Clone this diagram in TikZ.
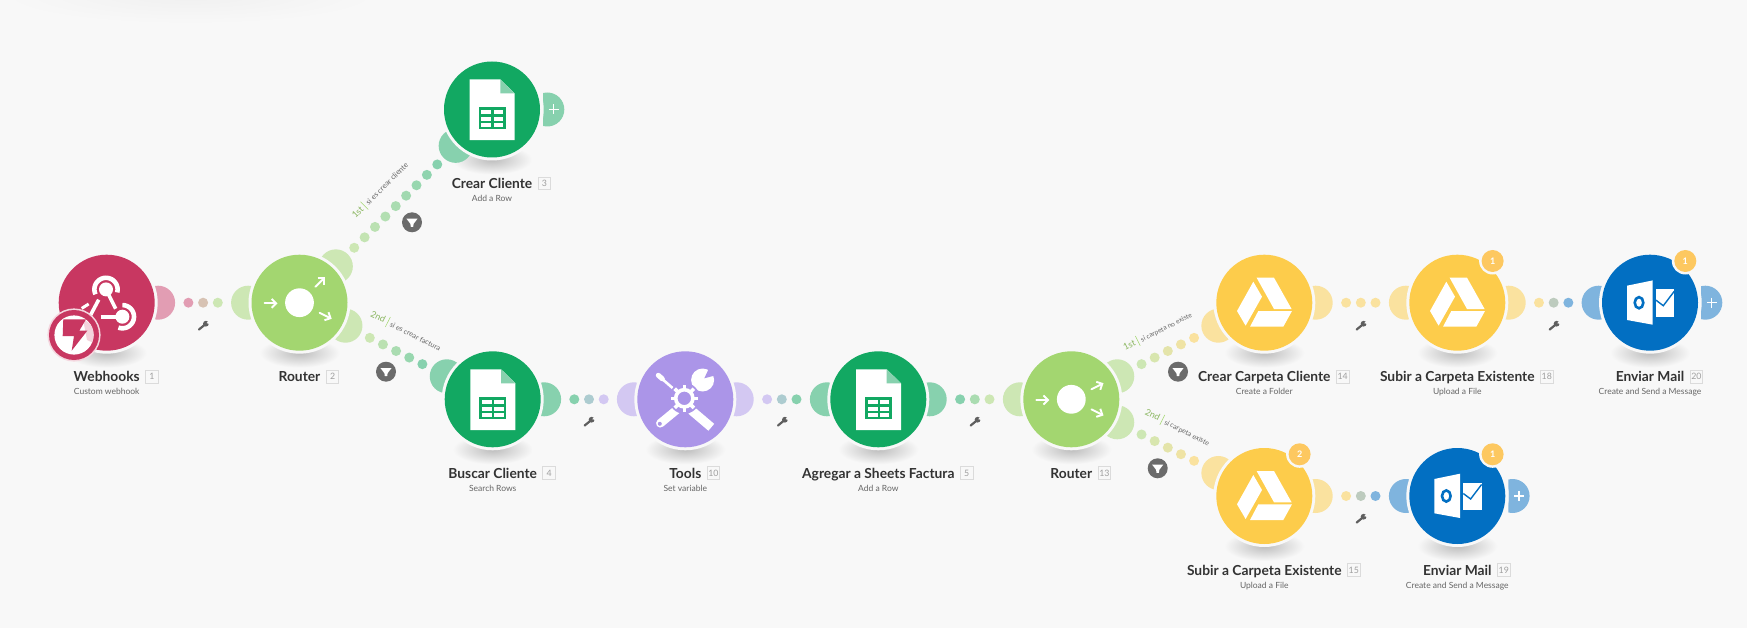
\documentclass[tikz,border=0pt]{standalone}
\usepackage{fontspec}
\setmainfont{Lato}
\usetikzlibrary{calc,arrows.meta}
\definecolor{bgc}{HTML}{F8F8F8}
\definecolor{hook}{HTML}{C83761}
\definecolor{hookS}{HTML}{E29DB3}
\definecolor{rout}{HTML}{A3D670}
\definecolor{routS}{HTML}{CDE7B4}
\definecolor{shee}{HTML}{12A862}
\definecolor{sheeS}{HTML}{87D1AE}
\definecolor{tool}{HTML}{AB95E8}
\definecolor{toolS}{HTML}{D3C8F2}
\definecolor{driv}{HTML}{FDCC4B}
\definecolor{drivS}{HTML}{FAE29F}
\definecolor{outl}{HTML}{026FC2}
\definecolor{outlS}{HTML}{7FB4DE}
\definecolor{badg}{HTML}{FDC860}
\definecolor{txtd}{HTML}{333333}
\definecolor{txtm}{HTML}{666666}
\definecolor{filt}{HTML}{6B6B6B}
\definecolor{wren}{HTML}{5F5F5F}
\tikzset{
 modcirc/.style={circle,inner sep=0pt,minimum size=96pt,fill=#1},
 modname/.style={inner sep=0pt,anchor=base,text=txtd,font=\fontsize{13.8}{16}\selectfont\bfseries},
 modsub/.style={inner sep=0pt,anchor=base,text=txtm,font=\fontsize{8.5}{10}\selectfont},
 numbox/.style={draw=black!14,line width=1pt,fill=bgc,minimum size=12.7pt,inner sep=0pt,text=black!38,font=\fontsize{8.8}{10}\selectfont},
 dotmark/.style={circle,inner sep=0pt,minimum size=10pt},
 filtnode/.style={circle,inner sep=0pt,minimum size=20pt,fill=filt},
 badgenode/.style={circle,inner sep=0pt,minimum size=22pt,fill=badg,text=white,font=\fontsize{9}{10}\selectfont\bfseries},
 routlabel/.style={inner sep=0pt,text=txtm},
 sheet/.pic={
  \fill[white] (-22.3,-30) -- (8.3,-30) -- (22.7,-16) -- (22.7,30.7) -- (-22.3,30.7) -- cycle;
  \fill[sheeS] (8.3,-30) -- (22.7,-16) -- (8.3,-16) -- cycle;
  \fill[shee] (-13.3,-2) rectangle (13.7,20);
  \foreach \yy in {0.7,7.3,14}{
   \fill[white] (-10.7,\yy) rectangle (-0.7,\yy+4);
   \fill[white] (1.7,\yy) rectangle (11,\yy+4);}
 },
 drive/.pic={
  \fill[white] (-7.7,-25) -- (9.7,-25) -- (27.3,6.3) -- (9.7,6.3) -- cycle;
  \fill[white] (-11,-21) -- (-2.3,-6) -- (-18.7,23) -- (-27.3,8.3) -- cycle;
  \fill[white] (-6,8.3) -- (27.7,8.3) -- (19,24) -- (-14.3,24) -- cycle;
 },
 outlook/.pic={
  \fill[white] (-23,-17) -- (2.7,-22.3) -- (2.7,22) -- (-23,17.3) -- cycle;
  \draw[outl,line width=2.6pt] (-11,0) ellipse[x radius=4.3,y radius=5.6];
  \fill[white] (6,-13.3) rectangle (24.3,14);
  \draw[outl,line width=1.4pt] (6,-2.5) -- (13.3,3) -- (24.3,-11.5);
 },
 tools/.pic={
  \draw[white,line width=2.6pt] (-25,-22) -- (-9,-8);
  \draw[white,line width=5pt,line cap=round] (-27,-24) -- (-23,-20.5);
  \draw[white,line width=9pt] (6,11) -- (26,28);
  \draw[white,line width=8.5pt,line cap=round] (-8,10) -- (-25,24);
  \fill[tool] (-25.5,24.5) circle[radius=2];
  \draw[white,line width=4.5pt] (8,-9) -- (14,-15);
  \fill[white] (17.3,-19.3) circle[radius=11.5];
  \fill[tool] (19,-21) -- (26,-36) -- (38,-26) -- cycle;
  \fill[tool] (-1,-1) circle[radius=15.5];
  \draw[white,line width=3.6pt] (-1,-1) circle[radius=8.6];
  \foreach \aa in {0,45,...,315}{\draw[white,line width=3.6pt] ($(-1,-1)+(\aa:9)$) -- ($(-1,-1)+(\aa:13.6)$);}
 },
 hookicon/.pic={
  \draw[white,line width=4.6pt] plot[domain=155:375,samples=30] ({-0.7+11.6*cos(\x)},{-13.3+11.6*sin(\x)});
  \draw[white,line width=4.6pt] plot[domain=-90:110,samples=30] ({15.7+11.6*cos(\x)},{14+11.6*sin(\x)});
  \fill[white] (-0.7,-13.3) circle[radius=7];
  \fill[white] (15.7,14) circle[radius=7];
  \draw[white,line width=3.6pt] (-0.7,-13.3) -- (9,6);
  \draw[white,line width=3.6pt] (-8,-3) -- (-17,14);
  \draw[white,line width=3.6pt] (-6,14) -- (15.7,14);
  \draw[white,line width=3pt] (-25,5.7) -- (-18,1.3);
 },
 wrenchmark/.pic={
  \draw[wren,line width=2.2pt,line cap=round] (-4.3,3.8) -- (1.5,-1);
  \fill[wren] (2.6,-2) circle[radius=2.9];
  \fill[bgc] (3.2,-2.6) -- (7,-6) -- (7,-1.5) -- cycle;
 },
}
\newcommand\Mod[8]{% id x y fill stubs name num sub
 \shade[inner color=black!26,outer color=bgc] (#2,#3+50) ellipse[x radius=40,y radius=15];
 \foreach \aa/\cc in {#5}{\fill[\cc] ($(#2,#3)+(\aa:51.4)$) circle[radius=17];}
 \fill[bgc] (#2,#3) circle[radius=51];
 \node[modcirc=#4] (#1) at (#2,#3) {};
 \node[modname] (#1n) at (#2,#3+79) {#6};
 \node[numbox] (#1b) at ($(#1n.base east)+(12,-5)$) {#7};
 \if\relax\detokenize{#8}\relax\else\node[modsub] (#1s) at (#2,#3+92) {#8};\fi
}
\newcommand\DotRow[6]{% a b c1 c2 n L
 \foreach \i in {1,...,#5}{
  \pgfmathsetmacro\pp{0.5+(\i-(#5+1)/2)*14.7/#6}
  \pgfmathsetmacro\tt{100*(\i-1)/(#5-1)}
  \path (#1.center) -- (#2.center) node[dotmark,fill=#4!\tt!#3,pos=\pp] (#1#2d\i) {};
 }
}
\newcommand\RouterIcon[2]{%
 \begin{scope}[shift={(#1.center)},white,line width=1.9pt]
  \fill (0,0) circle[radius=14.4];
  \draw[-{Straight Barb[length=4.5pt,width=9pt]},line cap=round] (-35,0.7) -- (-22,0.7);
  \draw[-{Straight Barb[length=4.5pt,width=9pt]},line cap=round] (#2:22.5) -- (#2:36);
  \draw[-{Straight Barb[length=4.5pt,width=9pt]},line cap=round] (26.6:22.5) -- (26.6:36);
 \end{scope}
}
\newcommand\Filt[3]{%
 \node[filtnode] (#1) at (#2,#3) {};
 \fill[white] ($(#1)+(-5.6,-3.7)$) -- ++(11.2,0) -- ++(-4,5.2) -- ++(-0.4,3) -- ++(-2.4,0) -- ++(-0.4,-3) -- cycle;
}
\newcommand\PlusMark[1]{%
 \draw[white,line width=1.2pt] ($(#1)+(56.7,0)$) -- ($(#1)+(66.7,0)$);
 \draw[white,line width=1.2pt] ($(#1)+(61.7,-5)$) -- ($(#1)+(61.7,5)$);
}
\newcommand\RLab[7]{% id x y rot first rest size
 \node[routlabel,rotate=#4,font=\fontsize{#7}{9}\selectfont] (#1) at (#2,#3) {\textcolor{rout!85!black}{\fontsize{9}{9}\selectfont #5}\hspace{3pt}\textcolor{rout}{\rule[-2.5pt]{0.5pt}{11pt}}\hspace{3pt}#6};
}
\begin{document}
\begin{tikzpicture}[x=1pt,y=-1pt]
\useasboundingbox (0,0) rectangle (1747,628);
\fill[bgc] (0,0) rectangle (1747,628);
% faint shadow at the top edge
\begin{scope}
 \clip (0,0) rectangle (1747,628);
 \shade[inner color=black!6,outer color=bgc] (190,-6) ellipse[x radius=190,y radius=30];
\end{scope}
% modules
\Mod{hk}{106.7}{302.7}{hook}{0/hookS}{Webhooks}{1}{Custom webhook}
\Mod{ra}{299.5}{302.7}{rout}{180/routS,-45/routS,26.6/routS}{Router}{2}{}
\Mod{cc}{492}{109.5}{shee}{135/sheeS}{Crear Cliente}{3}{Add a Row}
\Mod{bc}{492.7}{399.3}{shee}{0/sheeS,206.6/sheeS}{Buscar Cliente}{4}{Search Rows}
\Mod{tl}{685.3}{399.3}{tool}{0/toolS,180/toolS}{Tools}{10}{Set variable}
\Mod{ag}{878.3}{399.3}{shee}{0/sheeS,180/sheeS}{Agregar a Sheets Factura}{5}{Add a Row}
\Mod{rb}{1071.3}{399.3}{rout}{180/routS,-26.6/routS,26.6/routS}{Router}{13}{}
\Mod{cp}{1264.3}{302.7}{driv}{0/drivS,153.4/drivS}{Crear Carpeta Cliente}{14}{Create a Folder}
\Mod{su}{1457.3}{302.7}{driv}{0/drivS,180/drivS}{Subir a Carpeta Existente}{18}{Upload a File}
\Mod{em}{1650}{302.7}{outl}{180/outlS}{Enviar Mail}{20}{Create and Send a Message}
\Mod{sx}{1264.3}{496}{driv}{0/drivS,206.6/drivS}{Subir a Carpeta Existente}{15}{Upload a File}
\Mod{ex}{1457.3}{496}{outl}{180/outlS}{Enviar Mail}{19}{Create and Send a Message}
% plus stubs
\foreach \nn/\cc in {cc/sheeS,em/outlS,ex/outlS}{
 \begin{scope}
 \clip (\nn.center) ++(51,-20) rectangle ++(30,40);
 \fill[\cc] ($(\nn.center)+(55.3,0)$) circle[radius=17];
 \fill[bgc] (\nn.center) circle[radius=51.7];
 \end{scope}
 \PlusMark{\nn.center}
}
% connectors
\DotRow{hk}{ra}{hookS}{routS}{3}{192.8}
\DotRow{bc}{tl}{sheeS}{toolS}{3}{192.6}
\DotRow{tl}{ag}{toolS}{sheeS}{3}{193}
\DotRow{ag}{rb}{sheeS}{routS}{3}{193}
\DotRow{cp}{su}{drivS}{drivS}{3}{193}
\DotRow{su}{em}{drivS}{outlS}{3}{192.7}
\DotRow{sx}{ex}{drivS}{outlS}{3}{193}
\DotRow{ra}{cc}{routS}{sheeS}{9}{272.7}
\DotRow{ra}{bc}{routS}{sheeS}{5}{216}
\DotRow{rb}{cp}{routS}{drivS}{5}{216}
\DotRow{rb}{sx}{routS}{drivS}{5}{216}
% icons
\pic at (hk.center) {hookicon};
\RouterIcon{ra}{-45}
\RouterIcon{rb}{-26.6}
\pic at (cc.center) {sheet};
\pic at (bc.center) {sheet};
\pic at (ag.center) {sheet};
\pic at (tl.center) {tools};
\pic at (cp.center) {drive};
\pic at (su.center) {drive};
\pic at (sx.center) {drive};
\pic at (em.center) {outlook};
\pic at (ex.center) {outlook};
% instant trigger badge
\coordinate (ib) at (74,335);
\fill[hook!20!white] (ib) circle[radius=26.6];
\fill[hook] (ib) circle[radius=25];
\fill[white] (ib) circle[radius=19.6];
\begin{scope}
 \clip (ib) circle[radius=19.6];
 \fill[hook!22!white] ($(ib)+(9,-16)$) -- ($(ib)+(24,-6)$) -- ($(ib)+(24,10)$) -- ($(ib)+(13,5)$) -- cycle;
\end{scope}
\fill[hook] ($(ib)+(-10.7,-15.7)$) -- ($(ib)+(12,-15.7)$) -- ($(ib)+(5.3,-4.3)$) -- ($(ib)+(13.3,-4.3)$) -- ($(ib)+(-2.3,15.7)$) -- ($(ib)+(0,1)$) -- ($(ib)+(-11.3,1)$) -- cycle;
% count badges
\foreach \nn/\vv in {su/1,em/1,sx/2,ex/1}{
 \fill[bgc] ($(\nn.center)+(35.3,-41.7)$) circle[radius=13.5];
 \node[badgenode] (\nn bd) at ($(\nn.center)+(35.3,-41.7)$) {\vv};
}
% filters
\Filt{fa}{412}{222.3}
\Filt{fb}{386}{371.7}
\Filt{fc}{1178}{371.7}
\Filt{fd}{1157.7}{468.3}
% wrenches
\foreach \wx/\wy in {203.3/325.7,589/421.7,782.3/421.7,975/421.7,1361/325.7,1554/325.7,1361/518.7}{
 \pic at (\wx,\wy) {wrenchmark};
}
% route labels
\RLab{la}{380}{190}{45}{1st}{si es crear cliente}{7.5}
\RLab{lb}{405.8}{331}{-26.6}{2nd}{si es crear factura}{7.2}
\RLab{lc}{1157.5}{331}{26.6}{1st}{si carpeta no existe}{6.7}
\RLab{ld}{1177.5}{427.5}{-26.6}{2nd}{si carpeta existe}{7}
\end{tikzpicture}
\end{document}
